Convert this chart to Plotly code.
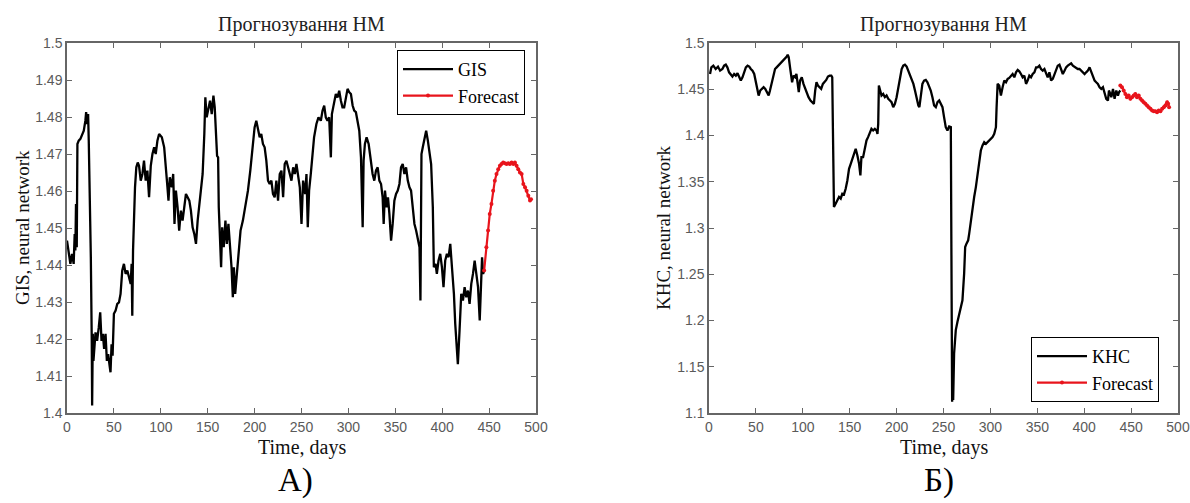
import plotly.graph_objects as go

# ---------------- data ----------------
gis_days = [0, 1.8, 3.6, 5.4, 7.1, 8.2, 8.9, 9.6, 10.4, 11.1, 12.5, 14.3, 16.1, 17.9, 19.6, 20.4, 21.4, 22.5, 23.2, 24.3,
            25.4, 26.4, 26.8, 27.5, 28.2, 30.4, 32.1, 33.9, 35.4, 36.8, 38.2, 39.6, 41.1, 42.5, 43.9, 45.4, 46.4, 47.5, 48.6, 50,
            51.8, 53.6, 55.4, 57.1, 58.9, 60.7, 62.5, 64.3, 66.1, 67.9, 68.9, 69.6, 70.4, 71.4, 72.5, 73.9, 75.4, 76.8, 78.6, 80.4,
            82.1, 83.9, 85.7, 87.5, 89.3, 91.1, 92.9, 94.6, 96.4, 98.2, 101.1, 103.6, 105.4, 107.1, 108.2, 109.6, 111.8, 113.2, 114.6, 116.1,
            117.9, 119.6, 121.4, 123.2, 125, 126.8, 128.6, 130.4, 132.1, 133.9, 135.7, 137.5, 139.3, 141.1, 142.9, 144.6, 146.4, 147.5, 148.9, 150.7,
            152.5, 154.3, 156.1, 157.5, 158.9, 160, 161.1, 161.8, 163.2, 164.3, 165.4, 167.1, 168.9, 170.4, 172.1, 173.9, 175.4, 176.8, 177.9, 179.3,
            181.1, 182.9, 185, 187.5, 190.4, 192.9, 195.4, 197.5, 200, 201.8, 203.6, 205.4, 207.1, 208.9, 210.7, 212.5, 214.3, 216.1, 217.9, 219.6,
            221.4, 223.2, 225, 226.8, 228.6, 230.4, 232.1, 233.9, 235.7, 237.5, 239.3, 241.1, 242.9, 244.6, 246.4, 248.2, 250, 251.7, 253.9, 255.3,
            256.7, 258.1, 259.9, 261.7, 263.4, 265.9, 268.1, 270.6, 272.4, 274.2, 275.9, 277.7, 279.5, 281.3, 282.4, 283.8, 285.2, 286.6, 288.4, 290.2,
            292, 293.7, 295.5, 297.3, 299.1, 300.9, 302.7, 304.5, 306.2, 308, 309.8, 311.6, 313.4, 315.2, 316.2, 317.6, 319.4, 321.6, 323, 324.4,
            325.8, 327.6, 329.4, 331.2, 333, 334.8, 336.5, 337.6, 339, 340.8, 342.2, 343.7, 345.5, 347.2, 349, 350.8, 352.6, 354.4, 356.1, 357.9,
            359.7, 361.5, 363.3, 365.1, 366.8, 368.6, 370.4, 372.2, 374, 375.8, 376.8, 377.9, 379.3, 381.1, 382.9, 384.7, 386.5, 388.2, 390, 391.1,
            392.9, 394.3, 396.1, 397.9, 399.7, 401.4, 403.2, 405, 406.8, 408.6, 410.4, 411.4, 412.5, 413.9, 415.3, 416.7, 418.5, 420.3, 422.1, 423.9,
            425.7, 427.5, 429.2, 431, 432.8, 434.6, 436.4, 438.2, 440, 441.1, 442.5, 443.6, 444.7]
gis_values = [1.4466, 1.4430, 1.4403, 1.4430, 1.4403, 1.4484, 1.4439, 1.4565, 1.4448, 1.4727, 1.4736, 1.4741, 1.4750, 1.4763, 1.4790, 1.4813, 1.4781, 1.4808, 1.4736, 1.4592,
              1.4421, 1.4195, 1.4020, 1.4214, 1.4141, 1.4218, 1.4195, 1.4232, 1.4272, 1.4195, 1.4214, 1.4173, 1.4214, 1.4141, 1.4159, 1.4128, 1.4110, 1.4186, 1.4155, 1.4268,
              1.4277, 1.4295, 1.4299, 1.4322, 1.4385, 1.4403, 1.4376, 1.4385, 1.4367, 1.4349, 1.4403, 1.4263, 1.4439, 1.4529, 1.4610, 1.4664, 1.4677, 1.4668, 1.4628, 1.4646,
              1.4682, 1.4628, 1.4655, 1.4583, 1.4668, 1.4700, 1.4718, 1.4700, 1.4736, 1.4754, 1.4745, 1.4718, 1.4646, 1.4610, 1.4574, 1.4637, 1.4610, 1.4646, 1.4511, 1.4601,
              1.4556, 1.4493, 1.4547, 1.4520, 1.4556, 1.4592, 1.4583, 1.4574, 1.4547, 1.4502, 1.4484, 1.4457, 1.4520, 1.4565, 1.4592, 1.4646, 1.4754, 1.4853, 1.4799, 1.4826,
              1.4844, 1.4808, 1.4858, 1.4826, 1.4763, 1.4695, 1.4691, 1.4556, 1.4466, 1.4394, 1.4502, 1.4448, 1.4520, 1.4457, 1.4511, 1.4457, 1.4394, 1.4313, 1.4394, 1.4322,
              1.4376, 1.4430, 1.4493, 1.4520, 1.4565, 1.4601, 1.4655, 1.4718, 1.4772, 1.4790, 1.4763, 1.4745, 1.4754, 1.4727, 1.4718, 1.4682, 1.4628, 1.4619, 1.4628, 1.4592,
              1.4583, 1.4628, 1.4574, 1.4646, 1.4655, 1.4583, 1.4673, 1.4682, 1.4664, 1.4646, 1.4628, 1.4664, 1.4646, 1.4673, 1.4637, 1.4610, 1.4511, 1.4628, 1.4592, 1.4646,
              1.4502, 1.4601, 1.4646, 1.4700, 1.4745, 1.4781, 1.4799, 1.4790, 1.4817, 1.4831, 1.4799, 1.4790, 1.4799, 1.4691, 1.4808, 1.4826, 1.4849, 1.4862, 1.4853, 1.4871,
              1.4844, 1.4826, 1.4826, 1.4853, 1.4876, 1.4867, 1.4862, 1.4831, 1.4817, 1.4813, 1.4781, 1.4763, 1.4691, 1.4502, 1.4682, 1.4727, 1.4745, 1.4727, 1.4700, 1.4664,
              1.4646, 1.4628, 1.4655, 1.4664, 1.4628, 1.4619, 1.4583, 1.4511, 1.4601, 1.4556, 1.4583, 1.4538, 1.4466, 1.4511, 1.4574, 1.4592, 1.4601, 1.4619, 1.4664, 1.4673,
              1.4646, 1.4664, 1.4628, 1.4610, 1.4601, 1.4556, 1.4511, 1.4493, 1.4466, 1.4448, 1.4304, 1.4700, 1.4718, 1.4745, 1.4763, 1.4736, 1.4700, 1.4673, 1.4556, 1.4394,
              1.4403, 1.4376, 1.4412, 1.4430, 1.4394, 1.4340, 1.4412, 1.4430, 1.4421, 1.4457, 1.4394, 1.4358, 1.4322, 1.4241, 1.4195, 1.4132, 1.4223, 1.4322, 1.4304, 1.4340,
              1.4313, 1.4331, 1.4295, 1.4349, 1.4376, 1.4412, 1.4376, 1.4340, 1.4250, 1.4349, 1.4421, 1.4376, 1.4385]

gis_fc_days = [444.7, 447.1, 448.9, 450.7, 452.5, 454.3, 456.1, 457.9, 459.7, 461.5, 463.2, 465, 466.8, 468.6, 470.4,
               472.2, 474, 475.8, 477.5, 479.3, 481.1, 482.9, 484.7, 486.5, 488.3, 490, 491.8, 493.6, 494.7]
gis_fc_values = [1.4385, 1.4448, 1.4493, 1.4538, 1.4565, 1.4601, 1.4628, 1.4646, 1.4659, 1.4668, 1.4673, 1.4677, 1.4675, 1.4673, 1.4675,
                 1.4673, 1.4677, 1.4673, 1.4677, 1.4668, 1.4659, 1.4650, 1.4646, 1.4619, 1.4610, 1.4601, 1.4587, 1.4574, 1.4578]

khc_days = [1.1, 2.5, 4.6, 7.1, 9.6, 11.8, 14.3, 16.1, 17.9, 19.6, 21.4, 23.2, 25, 26.8, 28.6, 30.4, 32.1, 33.9, 35.7, 37.5,
            39.3, 41.1, 42.9, 44.6, 46.4, 48.2, 50, 51.8, 52.9, 54.6, 56.1, 58.2, 60, 61.8, 63.6, 65, 66.8, 68.6, 70.4, 72.1,
            73.9, 75.7, 77.5, 79.6, 81.4, 82.9, 83.9, 85, 86.4, 87.5, 88.6, 90, 91.8, 93.2, 94.6, 95.7, 97.1, 98.9, 100.7, 102.5,
            104.3, 106.1, 108.2, 110, 111.8, 113.2, 114.6, 116.1, 117.9, 119.6, 121.4, 123.2, 125, 126.8, 128.6, 130.4, 131.4, 132.1, 133.2, 135,
            136.8, 138.6, 140.4, 142.1, 143.9, 145.7, 147.5, 149.3, 151.1, 152.9, 154.6, 156.4, 158.2, 160, 161.4, 162.5, 164.3, 166.1, 167.9, 169.6,
            171.4, 173.2, 175, 176.8, 178.6, 179.6, 180.4, 181.1, 182.5, 183.9, 185.7, 187.5, 189.3, 191.1, 192.9, 194.6, 196.4, 198.2, 200, 201.8,
            203.6, 205.4, 207.1, 208.9, 210.7, 212.5, 214.3, 216.1, 217.9, 219.6, 221.4, 223.2, 224.3, 225.7, 227.5, 229.3, 231.1, 232.9, 234.6, 236.4,
            238.2, 240, 241.8, 243.6, 245.4, 247.1, 248.9, 250.6, 252.4, 254.2, 256, 257.8, 258.5, 258.8, 259.2, 259.9, 260.3, 261.3, 263.1, 264.9,
            266.7, 268.4, 270.2, 272, 273.1, 274.5, 276.3, 277.4, 279.1, 280.9, 282.7, 284.5, 286.3, 288.1, 289.8, 291.6, 293.4, 295.2, 297, 298.7,
            300.5, 302.3, 304.1, 305.9, 306.6, 307.7, 309.4, 311.2, 313, 314.8, 316.6, 318.4, 320.1, 321.9, 323.7, 325.5, 327.3, 329.1, 330.8, 332.6,
            334.4, 336.2, 338, 339.7, 341.5, 343.3, 345.1, 346.9, 348.7, 350.4, 352.2, 354, 355.8, 357.6, 359.4, 361.1, 362.9, 364.7, 366.5, 368.3,
            370, 371.8, 373.6, 375.4, 377.2, 379, 380.7, 382.5, 384.3, 386.1, 387.9, 389.7, 391.4, 393.2, 395, 396.8, 398.6, 400.4, 402.1, 403.9,
            405.7, 407.5, 409.3, 411.1, 412.8, 414.6, 416.4, 418.2, 420, 421.7, 423.5, 425.3, 426.4, 427.8, 428.9, 430.7, 432.4, 434.2, 436, 437.1,
            438.5]
khc_values = [1.4665, 1.4737, 1.4755, 1.4719, 1.4745, 1.4701, 1.4719, 1.4755, 1.4766, 1.4737, 1.4683, 1.4665, 1.4637, 1.4665, 1.4647, 1.4673, 1.4629, 1.4594, 1.4629, 1.4683,
              1.4737, 1.4755, 1.4745, 1.4719, 1.4701, 1.4665, 1.4558, 1.4486, 1.4432, 1.4486, 1.4504, 1.4522, 1.4504, 1.4468, 1.4432, 1.4486, 1.4558, 1.4647, 1.4719, 1.4737,
              1.4755, 1.4773, 1.4791, 1.4809, 1.4827, 1.4853, 1.4874, 1.4845, 1.4737, 1.4629, 1.4576, 1.4647, 1.4629, 1.4665, 1.4558, 1.4468, 1.4594, 1.4629, 1.4558, 1.4504,
              1.4450, 1.4414, 1.4378, 1.4360, 1.4342, 1.4486, 1.4576, 1.4540, 1.4522, 1.4504, 1.4558, 1.4576, 1.4601, 1.4637, 1.4647, 1.4647, 1.4629, 1.4072, 1.3227, 1.3263,
              1.3299, 1.3335, 1.3317, 1.3370, 1.3363, 1.3424, 1.3514, 1.3640, 1.3694, 1.3748, 1.3802, 1.3856, 1.3784, 1.3694, 1.3568, 1.3766, 1.3766, 1.3874, 1.3946, 1.3982,
              1.4036, 1.4072, 1.4054, 1.4072, 1.4054, 1.4018, 1.4126, 1.4540, 1.4486, 1.4432, 1.4450, 1.4414, 1.4432, 1.4396, 1.4378, 1.4360, 1.4306, 1.4342, 1.4414, 1.4522,
              1.4629, 1.4719, 1.4755, 1.4766, 1.4745, 1.4701, 1.4665, 1.4612, 1.4558, 1.4486, 1.4396, 1.4324, 1.4306, 1.4450, 1.4558, 1.4594, 1.4601, 1.4576, 1.4540, 1.4486,
              1.4414, 1.4324, 1.4306, 1.4360, 1.4378, 1.4342, 1.4306, 1.4198, 1.4090, 1.4054, 1.4097, 1.4090, 1.2867, 1.1428, 1.1122, 1.1356, 1.1140, 1.1644, 1.1896, 1.1986,
              1.2076, 1.2147, 1.2219, 1.2507, 1.2795, 1.2831, 1.2867, 1.2939, 1.3083, 1.3227, 1.3335, 1.3442, 1.3586, 1.3730, 1.3838, 1.3892, 1.3928, 1.3910, 1.3928, 1.3946,
              1.3964, 1.3982, 1.4018, 1.4090, 1.4306, 1.4558, 1.4540, 1.4432, 1.4522, 1.4594, 1.4576, 1.4612, 1.4622, 1.4647, 1.4665, 1.4629, 1.4683, 1.4709, 1.4694, 1.4665,
              1.4629, 1.4647, 1.4558, 1.4594, 1.4647, 1.4629, 1.4665, 1.4683, 1.4737, 1.4737, 1.4755, 1.4719, 1.4701, 1.4719, 1.4665, 1.4629, 1.4683, 1.4594, 1.4612, 1.4665,
              1.4719, 1.4755, 1.4766, 1.4719, 1.4665, 1.4701, 1.4737, 1.4755, 1.4773, 1.4781, 1.4755, 1.4745, 1.4737, 1.4719, 1.4719, 1.4701, 1.4683, 1.4665, 1.4683, 1.4701,
              1.4737, 1.4683, 1.4629, 1.4594, 1.4576, 1.4558, 1.4522, 1.4504, 1.4522, 1.4450, 1.4396, 1.4378, 1.4486, 1.4450, 1.4414, 1.4504, 1.4396, 1.4486, 1.4432, 1.4468,
              1.4486]

khc_fc_days = [438.5, 440.3, 442.1, 443.9, 445.6, 447.4, 449.2, 451, 452.8, 454.5, 456.3, 458.1, 459.9, 461.7, 463.5, 465.2,
               467, 468.8, 470.6, 472.4, 474.2, 475.9, 477.7, 479.5, 481.3, 483.1, 484.9, 486.6, 488.4, 489.5, 490.5]
khc_fc_values = [1.4540, 1.4522, 1.4486, 1.4450, 1.4414, 1.4432, 1.4396, 1.4414, 1.4432, 1.4450, 1.4414, 1.4432, 1.4396, 1.4378, 1.4360, 1.4342,
                 1.4324, 1.4306, 1.4288, 1.4270, 1.4263, 1.4263, 1.4252, 1.4270, 1.4263, 1.4288, 1.4306, 1.4324, 1.4360, 1.4342, 1.4306]

x_ticks = [0, 50, 100, 150, 200, 250, 300, 350, 400, 450, 500]
left_y_ticks = [1.40, 1.41, 1.42, 1.43, 1.44, 1.45, 1.46, 1.47, 1.48, 1.49, 1.50]
left_y_labels = ["1.4", "1.41", "1.42", "1.43", "1.44", "1.45", "1.46", "1.47", "1.48", "1.49", "1.5"]
right_y_ticks = [1.10, 1.15, 1.20, 1.25, 1.30, 1.35, 1.40, 1.45, 1.50]
right_y_labels = ["1.1", "1.15", "1.2", "1.25", "1.3", "1.35", "1.4", "1.45", "1.5"]

title_text = "Прогнозування НМ"
x_label = "Time, days"
left_y_label = "GIS, neural network"
right_y_label = "KHC, neural network"
panel_labels = ["А)", "Б)"]

# ---------------- figure ----------------
W, H = 1190, 503
SERIF = "Liberation Serif, Times New Roman, serif"
SANS = "Liberation Sans, Arial, sans-serif"

fig = go.Figure()

fig.add_trace(go.Scatter(x=gis_days, y=gis_values, mode="lines", name="GIS",
                         line=dict(color="black", width=2.3), xaxis="x", yaxis="y", legend="legend"))
fig.add_trace(go.Scatter(x=gis_fc_days, y=gis_fc_values, mode="lines+markers", name="Forecast",
                         line=dict(color="#e8141c", width=2.2), marker=dict(size=4, color="#e8141c"),
                         xaxis="x", yaxis="y", legend="legend"))
fig.add_trace(go.Scatter(x=khc_days, y=khc_values, mode="lines", name="KHC",
                         line=dict(color="black", width=2.3), xaxis="x2", yaxis="y2", legend="legend2"))
fig.add_trace(go.Scatter(x=khc_fc_days, y=khc_fc_values, mode="lines+markers", name="Forecast",
                         line=dict(color="#e8141c", width=2.2), marker=dict(size=4, color="#e8141c"),
                         xaxis="x2", yaxis="y2", legend="legend2"))

ax_common = dict(showline=True, linecolor="#666", linewidth=1.5, mirror="ticks", ticks="inside",
                 ticklen=5, tickcolor="#666", tickwidth=1, showgrid=False, zeroline=False,
                 automargin=False, tickfont=dict(family=SANS, size=14, color="#5a5a5a"))

L0, L1 = 67 / W, 536 / W
R0, R1 = 709 / W, 1178 / W
B, T = (H - 413) / H, (H - 43) / H

leg_font = dict(family=SERIF, size=18, color="black")
fig.update_layout(
    width=W, height=H, autosize=False,
    margin=dict(l=0, r=0, t=0, b=0, pad=0, autoexpand=False),
    paper_bgcolor="white", plot_bgcolor="white",
    xaxis=dict(domain=[L0, L1], range=[0, 500], tickvals=x_ticks, anchor="y", **ax_common),
    yaxis=dict(domain=[B, T], range=[1.4, 1.5], tickvals=left_y_ticks, ticktext=left_y_labels,
               anchor="x", **ax_common),
    xaxis2=dict(domain=[R0, R1], range=[0, 500], tickvals=x_ticks, anchor="y2", **ax_common),
    yaxis2=dict(domain=[B, T], range=[1.1, 1.5], tickvals=right_y_ticks, ticktext=right_y_labels,
                anchor="x2", **ax_common),
    legend=dict(x=397 / W, y=1 - 50 / H, xanchor="left", yanchor="top", bgcolor="white",
                bordercolor="black", borderwidth=1, font=leg_font, itemwidth=50, tracegroupgap=0),
    legend2=dict(x=1031 / W, y=1 - 337 / H, xanchor="left", yanchor="top", bgcolor="white",
                 bordercolor="black", borderwidth=1, font=leg_font, itemwidth=50, tracegroupgap=0),
    showlegend=True,
)

ann = []
for cx, plab_x, plab in [((67 + 536) / 2, 295, panel_labels[0]),
                         ((709 + 1178) / 2, 939, panel_labels[1])]:
    ann.append(dict(text=title_text, x=cx / W, y=1 - 25 / H, xref="paper", yref="paper",
                    showarrow=False, xanchor="center", yanchor="middle",
                    font=dict(family=SERIF, size=20, color="#222")))
    ann.append(dict(text=x_label, x=cx / W, y=1 - 447 / H, xref="paper", yref="paper",
                    showarrow=False, xanchor="center", yanchor="middle",
                    font=dict(family=SERIF, size=20, color="#111")))
    ann.append(dict(text=plab, x=plab_x / W, y=2 / H, xref="paper", yref="paper",
                    showarrow=False, xanchor="center", yanchor="bottom",
                    font=dict(family=SERIF, size=33, color="black")))
ann.append(dict(text=left_y_label, x=22 / W, y=1 - 228 / H, xref="paper", yref="paper",
                showarrow=False, xanchor="center", yanchor="middle", textangle=-90,
                font=dict(family=SERIF, size=19, color="#111")))
ann.append(dict(text=right_y_label, x=663 / W, y=1 - 228 / H, xref="paper", yref="paper",
                showarrow=False, xanchor="center", yanchor="middle", textangle=-90,
                font=dict(family=SERIF, size=19, color="#111")))
fig.update_layout(annotations=ann)

fig.write_html("out.html", config={"displayModeBar": False},
               post_script="document.body.style.margin='0';document.body.style.overflow='hidden';")
